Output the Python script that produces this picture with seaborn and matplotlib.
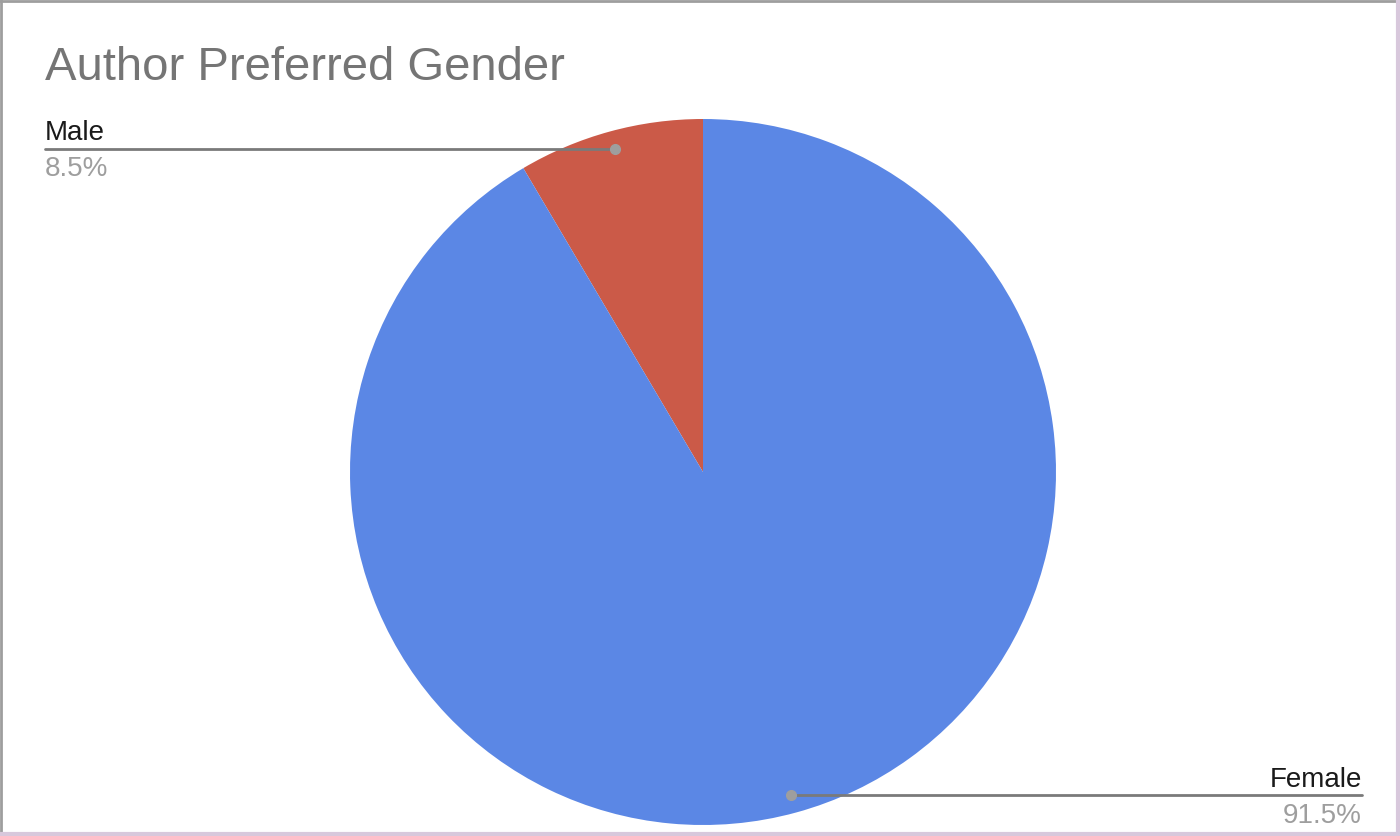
import numpy as np
import matplotlib
matplotlib.use("Agg")
import matplotlib.pyplot as plt
import seaborn as sns
from matplotlib.lines import Line2D

sns.set_theme(style="white")
plt.rcParams['font.family'] = ['Liberation Sans', 'DejaVu Sans']

title = "Author Preferred Gender"
labels = ["Male", "Female"]
values = [8.5, 91.5]
colors = ["#cb5a48", "#5b87e5"]

W, H = 1400, 836
fig = plt.figure(figsize=(W / 100, H / 100), dpi=100)
fig.patch.set_facecolor("white")

cx, cy, r = 703, 472, 353
ax = fig.add_axes([(cx - r) / W, (H - cy - r) / H, 2 * r / W, 2 * r / H])
wedges, _ = ax.pie(values, colors=colors, startangle=90, counterclock=True,
                   radius=1.0, wedgeprops=dict(linewidth=0))
ax.set_xlim(-1, 1)
ax.set_ylim(-1, 1)
ax.set_aspect("equal")
ax.axis("off")

# leader lines & labels
left_end = (45 - cx) / r
right_end = (1362 - cx) / r
total = sum(values)
for w, lab, v in zip(wedges, labels, values):
    mid = np.deg2rad((w.theta1 + w.theta2) / 2)
    px, py = 0.95 * np.cos(mid), 0.95 * np.sin(mid)
    if px < 0:
        ex, ha = left_end, "left"
    else:
        ex, ha = right_end, "right"
    ax.add_line(Line2D([px, ex], [py, py], color="#7a7a7a", lw=2, clip_on=False, zorder=5))
    ax.plot([px], [py], "o", color="#9e9e9e", ms=7, clip_on=False, zorder=6)
    ax.text(ex, py + 0.025, lab, ha=ha, va="baseline", fontsize=20, color="#1a1a1a", clip_on=False)
    ax.text(ex, py - 0.022, f"{v / total * 100:.1f}%", ha=ha, va="top", fontsize=20,
            color="#9e9e9e", clip_on=False)

fig.text(45 / W, 1 - 68 / H, title, ha="left", va="center", fontsize=34, color="#757575")

# frame
fig.add_artist(Line2D([0, 1], [0.999, 0.999], transform=fig.transFigure, color="#9e9e9e", lw=2))
fig.add_artist(Line2D([0.0007, 0.0007], [0, 1], transform=fig.transFigure, color="#9e9e9e", lw=2))
fig.add_artist(Line2D([0, 1], [0.002, 0.002], transform=fig.transFigure, color="#d8c8dc", lw=3))
fig.add_artist(Line2D([0.9985, 0.9985], [0, 1], transform=fig.transFigure, color="#d8c8dc", lw=3))

fig.savefig("out.png", dpi=100, facecolor="white")
